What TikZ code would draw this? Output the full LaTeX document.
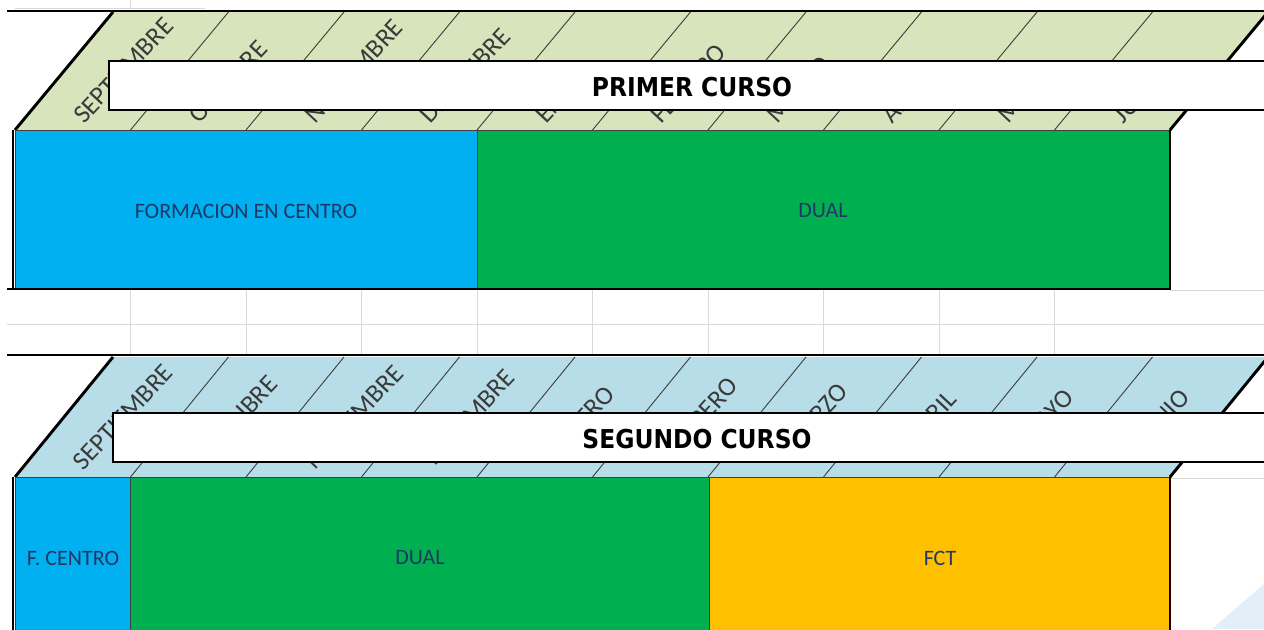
\documentclass[tikz,border=0pt]{standalone}
\usepackage{fontspec}
\setmainfont{Carlito}
\newfontfamily\titlefont[FakeStretch=0.9]{DejaVu Sans}
\usepackage{tikz}
\definecolor{olivelight}{HTML}{D8E4BC}
\definecolor{aqualight}{HTML}{B7DEE8}
\definecolor{cellblue}{HTML}{00B0F0}
\definecolor{cellgreen}{HTML}{00B050}
\definecolor{cellorange}{HTML}{FFC000}
\definecolor{labelnavy}{HTML}{1F3864}
\definecolor{gridgray}{HTML}{D9D9D9}
\definecolor{monthgray}{HTML}{3A3A3A}
\definecolor{markblue}{HTML}{E2EEF8}
\tikzstyle{border} = [line width=2.2pt, black]
\tikzstyle{divider} = [line width=0.7pt, black!75]
\tikzstyle{gridline} = [line width=0.75pt, gridgray]
\tikzstyle{month} = [font=\fontsize{19.5}{20}\selectfont, text=monthgray, inner sep=0pt, anchor=base west, rotate=47]
\tikzstyle{celllabel} = [font=\fontsize{16.5}{18}\selectfont, text=labelnavy]
\tikzstyle{titlebox} = [fill=white, draw=black, line width=1.6pt]
\tikzstyle{title} = [font=\titlefont\bfseries\fontsize{19.5}{20}\selectfont]

\begin{document}
\begin{tikzpicture}[x=0.75pt, y=-0.75pt]
\useasboundingbox (0,0) rectangle (1264,629);
\clip (0,0) rectangle (1264,629);
\fill[white] (0,0) rectangle (1264,629);

%sheet grid
\draw[gridline] (15,8) -- (205,8);
\draw[gridline] (130,0) -- (130,8);
\foreach \x in {1,...,9}
{
\draw[gridline] (15+115.5*\x,290) -- (15+115.5*\x,355);
}
\draw[gridline] (7,324) -- (1264,324);
\draw[gridline] (1170,290) -- (1264,290);
\draw[gridline] (1170,478) -- (1264,478);

%first year: months band
\fill[olivelight] (15,130) -- (113,12) -- (1268,12) -- (1170,130) -- cycle;
\foreach \x in {1,...,9}
{
\draw[divider] (15+115.5*\x,130) -- (113+115.5*\x,12);
}
\foreach \m [count=\x from 0] in {SEPTIEMBRE,OCTUBRE,NOVIEMBRE,DICIEMBRE,ENERO,FEBRERO,MARZO,ABRIL,MAYO,JUNIO}
{
\node[month] (mesA\x) at (84+115.5*\x,125) {\m};
}
\draw[border] (15,130) -- (113,12);
\draw[border] (1170,130) -- (1268,12);
\draw[border] (7,11) -- (1264,11);
\draw[titlebox] (109,61) rectangle (1275,110);
\node[title] (primer) at (692,87) {PRIMER CURSO};

%first year: periods
\draw[divider, fill=cellblue] (15,130) rectangle (477,289);
\draw[divider, fill=cellgreen] (477,130) rectangle (1170,289);
\draw[border] (13,130) -- (13,289);
\draw[border] (7,289) -- (1170,289) -- (1170,130);
\node[celllabel] (centroA) at (246,211) {FORMACION EN CENTRO};
\node[celllabel] (dualA) at (823,211) {DUAL};

%second year: months band (centred names)
\fill[aqualight] (15,477) -- (113,357) -- (1268,357) -- (1170,477) -- cycle;
\foreach \x in {1,...,9}
{
\draw[divider] (15+115.5*\x,477) -- (113+115.5*\x,357);
}
\foreach \m [count=\x from 0] in {SEPTIEMBRE,OCTUBRE,NOVIEMBRE,DICIEMBRE,ENERO,FEBRERO,MARZO,ABRIL,MAYO,JUNIO}
{
\node[month, anchor=center] (mesB\x) at (123+115.5*\x,417) {\m};
}
\draw[border] (15,477) -- (113,357);
\draw[border] (1170,477) -- (1268,357);
\draw[border] (7,355) -- (1264,355);
\draw[titlebox] (113,413) rectangle (1275,462);
\node[title] (segundo) at (697,439) {SEGUNDO CURSO};

%second year: periods
\draw[divider, fill=cellblue] (15,477) rectangle (130,640);
\draw[divider, fill=cellgreen] (130,477) rectangle (709,640);
\draw[divider, fill=cellorange] (709,477) rectangle (1170,640);
\draw[border] (13,477) -- (13,640);
\draw[line width=1.4pt, black!90!red] (1170,477) -- (1170,640);
\node[celllabel] (centroB) at (73,558) {F. CENTRO};
\node[celllabel] (dualB) at (420,558) {DUAL};
\node[celllabel] (fct) at (940,558) {FCT};

%faint mark, bottom right
\fill[markblue] (1212,629) -- (1264,584) -- (1264,629) -- cycle;

\end{tikzpicture}
\end{document}
